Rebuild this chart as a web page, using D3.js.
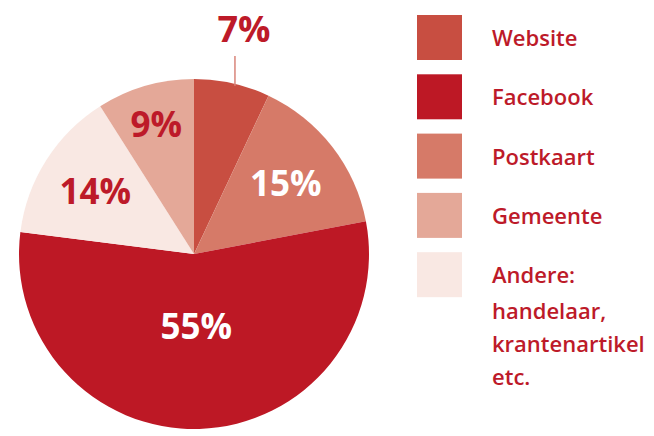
<!DOCTYPE html>
<html>
<head>
<meta charset="utf-8">
<script src="https://cdn.jsdelivr.net/npm/d3@7"></script>
<style>
  body { margin: 0; background: #fff; }
  svg { display: block; font-family: "Open Sans", "Noto Sans", sans-serif; }
</style>
</head>
<body>
<svg></svg>
<script>
const width = 654;
const height = 436;

// clockwise from 12 o'clock
const sliceNames = ['Website', 'Postkaart', 'Facebook', 'Andere', 'Gemeente'];
const sliceValues = [7, 15, 55, 14, 9];

const legendNames = ['Website', 'Facebook', 'Postkaart', 'Gemeente', 'Andere'];
const legendLines = [
	['Website'],
	['Facebook'],
	['Postkaart'],
	['Gemeente'],
	['Andere:', 'handelaar,', 'krantenartikel', 'etc.']
];
const sliceColors = ['#c84e41', '#bd1825', '#d67a68', '#e4a898', '#f9e8e3'];

const textRed = '#bd1a29';

const svg = d3.select('svg')
	.attr('width', width)
	.attr('height', height);

const color = d3.scaleOrdinal()
	.domain(legendNames)
	.range(sliceColors);

const cx = 194;
const cy = 254;
const radius = 175;

const pie = d3.pie()
	.sort(null)
	.value(d => d.value);

const arcs = pie(sliceNames.map((name, i) => ({ name, value: sliceValues[i] })));

const arc = d3.arc().innerRadius(0).outerRadius(radius);

const g = svg.append('g')
	.attr('transform', `translate(${cx},${cy})`);

g.selectAll('path')
	.data(arcs)
	.enter().append('path')
		.attr('d', arc)
		.attr('fill', d => color(d.data.name));

// label distance from the centre
const labelR = { Website: 0, Postkaart: 116, Facebook: 72, Andere: 117, Gemeente: 135 };

function labelXY(d) {
	const r = labelR[d.data.name];
	const a = (d.startAngle + d.endAngle) / 2;
	return [r * Math.sin(a), -r * Math.cos(a)];
}

const inside = arcs.filter(d => d.data.name !== 'Website');

g.selectAll('text.pct')
	.data(inside)
	.enter().append('text')
		.attr('class', 'pct')
		.attr('x', d => labelXY(d)[0])
		.attr('y', d => labelXY(d)[1])
		.attr('dy', '0.36em')
		.attr('text-anchor', 'middle')
		.attr('font-size', 35)
		.attr('font-weight', 700)
		.attr('fill', d => d.data.name === 'Facebook' || d.data.name === 'Postkaart' ? '#fff' : textRed)
		.text(d => d.value + '%');

// website label sits outside with a leader line
const web = arcs[0];
const webAngle = (web.startAngle + web.endAngle) / 2;
const webX = (radius - 1) * Math.sin(webAngle) + 3;
const webY = -Math.sqrt(radius * radius - webX * webX);

g.append('line')
	.attr('x1', webX)
	.attr('x2', webX)
	.attr('y1', webY + 2)
	.attr('y2', 56 - cy)
	.attr('stroke', '#d9857a')
	.attr('stroke-width', 1.5);

g.append('text')
	.attr('x', webX + 9)
	.attr('y', 42 - cy)
	.attr('text-anchor', 'middle')
	.attr('font-size', 36)
	.attr('font-weight', 700)
	.attr('fill', textRed)
	.text(web.value + '%');

// legend
const legend = svg.append('g')
	.attr('transform', 'translate(417,15)');

const row = legend.selectAll('g')
	.data(legendNames)
	.enter().append('g')
		.attr('transform', (d, i) => `translate(0,${i * 59.3})`);

row.append('rect')
	.attr('width', 45)
	.attr('height', 45)
	.attr('fill', d => color(d));

row.append('text')
	.attr('x', 75)
	.attr('fill', textRed)
	.attr('font-size', 22)
	.attr('font-weight', 600)
	.selectAll('tspan')
	.data((d, i) => legendLines[i])
	.enter().append('tspan')
		.attr('x', 75)
		.attr('y', (d, i) => [31, 67, 100, 133][i])
		.text(d => d);
</script>
</body>
</html>
